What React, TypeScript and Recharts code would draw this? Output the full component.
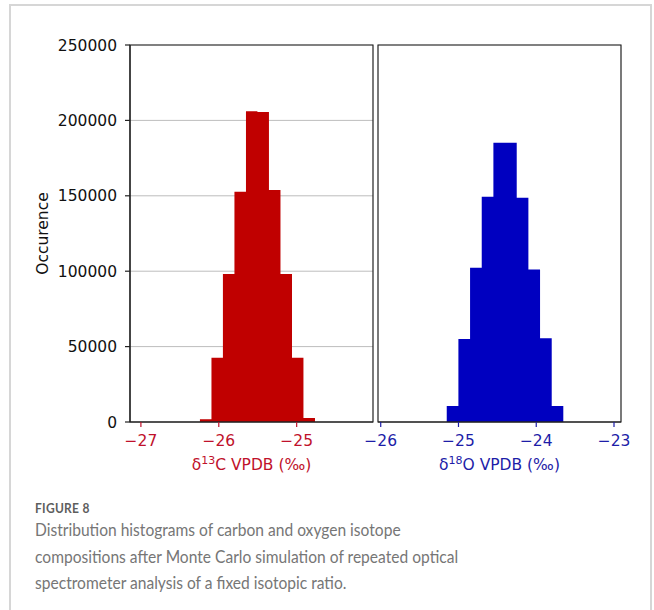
import { AreaChart, Area, XAxis, YAxis, CartesianGrid, ReferenceArea } from 'recharts';

// histogram bin edges (per mil) and counts
const carbonEdges = [-26.242, -26.094, -25.947, -25.799, -25.651, -25.504, -25.356, -25.208, -25.06, -24.913, -24.765];
const carbonCounts = [1800, 42600, 98100, 152700, 206000, 205600, 153800, 98100, 42600, 2600];
const oxygenEdges = [-25.151, -25.001, -24.851, -24.701, -24.551, -24.401, -24.251, -24.101, -23.951, -23.801, -23.652];
const oxygenCounts = [10600, 55000, 102300, 149400, 185200, 185200, 148700, 101200, 55500, 10600];

const countTicks = [0, 50000, 100000, 150000, 200000, 250000];
const carbonTicks = [-27, -26, -25];
const oxygenTicks = [-26, -25, -24, -23];
const carbonDomain = [-27.14, -24.02];
const oxygenDomain = [-26.035, -22.91];

const captionTitle = 'FIGURE 8';
const captionLines = [
  'Distribution histograms of carbon and oxygen isotope',
  'compositions after Monte Carlo simulation of repeated optical',
  'spectrometer analysis of a fixed isotopic ratio.',
];

const FONT = '"DejaVu Sans", sans-serif';
const RED_BAR = '#c00000';
const RED_TEXT = '#c0112b';
const BLUE_BAR = '#0000c0';
const BLUE_TEXT = '#1d1da8';
const FRAME = '#222';
const FS = 15.5;

const toRows = (edges: number[], counts: number[]) =>
  edges.map((x, i) => ({ x, count: i < counts.length ? counts[i] : 0 }));

const minusFmt = (v: number) => (v < 0 ? `\u2212${Math.abs(v)}` : `${v}`);

const isoLabel = (mass: string, sym: string, color: string) => (props: any) => {
  const { x, y, width } = props.viewBox;
  return (
    <text x={x + width / 2} y={y + 48} textAnchor="middle" fill={color} fontFamily={FONT} fontSize={FS}>
      δ
      <tspan dy={-6} fontSize={11}>{mass}</tspan>
      <tspan dy={6}>{sym} VPDB (‰)</tspan>
    </text>
  );
};

const occurenceLabel = (props: any) => {
  const { x, y, height } = props.viewBox;
  const cx = x + 43;
  const cy = y + height / 2;
  return (
    <text x={cx} y={cy} transform={`rotate(-90, ${cx}, ${cy})`} textAnchor="middle"
      dominantBaseline="central" fill="#111" fontFamily={FONT} fontSize={FS}>
      Occurence
    </text>
  );
};

type PanelProps = {
  rows: { x: number, count: number }[],
  domain: number[],
  ticks: number[],
  barColor: string,
  textColor: string,
  mass: string,
  sym: string,
  showCounts: boolean,
};

const Panel = ({ rows, domain, ticks, barColor, textColor, mass, sym, showCounts }: PanelProps) => (
  <AreaChart
    width={showCounts ? 380 : 298}
    height={480}
    data={rows}
    margin={{ top: 45, right: showCounts ? 7 : 17, left: showCounts ? 0 : 38, bottom: 8 }}
  >
    <CartesianGrid vertical={false} stroke="#bdbdbd" strokeWidth={1} />
    <XAxis
      dataKey="x"
      type="number"
      domain={domain}
      ticks={ticks}
      allowDataOverflow
      height={50}
      tickFormatter={minusFmt}
      tick={{ fill: textColor, fontFamily: FONT, fontSize: FS }}
      tickLine={{ stroke: textColor, strokeWidth: 1.2 }}
      axisLine={{ stroke: FRAME, strokeWidth: 1.2 }}
      tickSize={5}
      tickMargin={7.5}
      label={isoLabel(mass, sym, textColor)}
    />
    <YAxis
      type="number"
      domain={[0, 250000]}
      ticks={countTicks}
      width={showCounts ? 130 : 0}
      tick={showCounts ? { fill: '#111', fontFamily: FONT, fontSize: FS } : false}
      tickLine={showCounts ? { stroke: FRAME, strokeWidth: 1.2 } : false}
      axisLine={showCounts ? { stroke: FRAME, strokeWidth: 1.2 } : false}
      tickSize={5}
      tickMargin={8}
      label={showCounts ? occurenceLabel : undefined}
    />
    <Area
      dataKey="count"
      type="stepAfter"
      fill={barColor}
      fillOpacity={1}
      stroke="none"
      isAnimationActive={false}
      dot={false}
      activeDot={false}
    />
    <ReferenceArea
      x1={domain[0]} x2={domain[1]} y1={0} y2={250000}
      fill="none" stroke={FRAME} strokeWidth={1.2} ifOverflow="visible"
    />
  </AreaChart>
);

export default function App() {
  return (
    <div style={{ position: 'absolute', left: 0, top: 0, width: 654, height: 610, background: '#fff', overflow: 'hidden' }}>
      <div style={{ position: 'absolute', left: 9, top: 4, width: 643, height: 640, border: '2px solid #d6d6d6', boxSizing: 'border-box' }} />
      <div style={{ position: 'absolute', left: 0, top: 0 }}>
        <Panel rows={toRows(carbonEdges, carbonCounts)} domain={carbonDomain} ticks={carbonTicks}
          barColor={RED_BAR} textColor={RED_TEXT} mass="13" sym="C" showCounts />
      </div>
      <div style={{ position: 'absolute', left: 340, top: 0 }}>
        <Panel rows={toRows(oxygenEdges, oxygenCounts)} domain={oxygenDomain} ticks={oxygenTicks}
          barColor={BLUE_BAR} textColor={BLUE_TEXT} mass="18" sym="O" showCounts={false} />
      </div>
      <div style={{
        position: 'absolute', left: 35, top: 499, fontFamily: 'Lato, sans-serif', color: '#767676',
        transform: 'scaleX(0.89)', transformOrigin: 'left top', whiteSpace: 'nowrap',
      }}>
        <div style={{ fontSize: 13.5, fontWeight: 700, color: '#5e5e5e', lineHeight: '18px', letterSpacing: 0.3 }}>{captionTitle}</div>
        {captionLines.map((line) => (
          <div key={line} style={{ fontSize: 17.5, lineHeight: '26.5px' }}>{line}</div>
        ))}
      </div>
    </div>
  );
}
